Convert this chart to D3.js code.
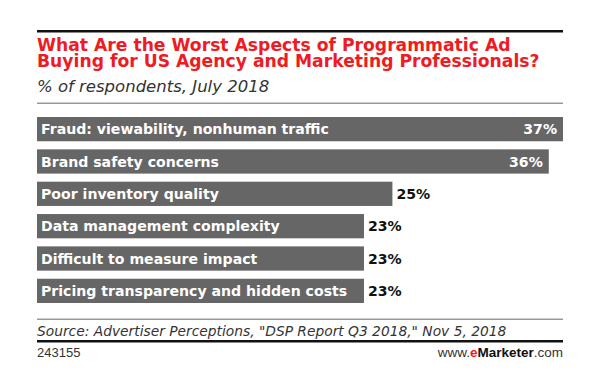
<!DOCTYPE html>
<html>
<head>
<meta charset="utf-8">
<script src="https://cdn.jsdelivr.net/npm/d3@7"></script>
<style>
  body { margin: 0; background: #fff; }
  svg { display: block; }
</style>
</head>
<body>
<div class="chart"></div>
<script>
var categories = [
  "Fraud: viewability, nonhuman traffic",
  "Brand safety concerns",
  "Poor inventory quality",
  "Data management complexity",
  "Difficult to measure impact",
  "Pricing transparency and hidden costs"
];
var values = [37, 36, 25, 23, 23, 23];
var title_lines = [
  "What Are the Worst Aspects of Programmatic Ad",
  "Buying for US Agency and Marketing Professionals?"
];
var subtitle = "% of respondents, July 2018";
var source = "Source: Advertiser Perceptions, \"DSP Report Q3 2018,\" Nov 5, 2018";
var chart_id = "243155";

var width = 600,
    height = 390,
    left = 37,
    right = 563,
    bars_top = 117,
    bars_bottom = 303,
    bar_color = "#666666",
    title_color = "#ee1b24",
    font = "'DejaVu Sans', sans-serif";

var svg = d3.select(".chart")
    .append("svg")
    .attr("width", width)
    .attr("height", height);

var x = d3.scaleLinear()
    .domain([0, d3.max(values)])
    .range([left, right]);

var y = d3.scaleBand()
    .domain(categories)
    .range([bars_top, bars_bottom])
    .paddingInner(0.25)
    .paddingOuter(0);

// header
svg.append("rect")
    .attr("x", left).attr("y", 30)
    .attr("width", right - left).attr("height", 2.5)
    .attr("fill", "#111");

svg.selectAll(".title")
    .data(title_lines)
    .enter().append("text")
    .attr("class", "title")
    .attr("x", left)
    .attr("y", function(d, i) { return 50.5 + i * 16.5; })
    .attr("font-family", font)
    .attr("font-weight", 700)
    .attr("font-size", 17.2)
    .attr("fill", title_color)
    .text(function(d) { return d; });

svg.append("text")
    .attr("x", left).attr("y", 92)
    .attr("font-family", font)
    .attr("font-style", "italic")
    .attr("font-size", 16.5)
    .attr("fill", "#333")
    .text(subtitle);

svg.append("rect")
    .attr("x", left).attr("y", 102.5)
    .attr("width", right - left).attr("height", 1.5)
    .attr("fill", "#999");

// bars
var rows = svg.selectAll(".row")
    .data(categories)
    .enter().append("g")
    .attr("class", "row");

rows.append("rect")
    .attr("x", x(0))
    .attr("y", function(d) { return y(d); })
    .attr("width", function(d, i) { return x(values[i]) - x(0); })
    .attr("height", y.bandwidth())
    .attr("fill", bar_color);

rows.append("text")
    .attr("x", x(0) + 4)
    .attr("y", function(d) { return y(d) + y.bandwidth() / 2; })
    .attr("dy", "0.36em")
    .attr("font-family", font)
    .attr("font-weight", 700)
    .attr("font-size", 14.1)
    .attr("fill", "#fff")
    .text(function(d) { return d; });

// long bars carry their value inside, the rest just past the end
rows.each(function(d, i) {
  var inside = values[i] > 0.8 * d3.max(values);
  var end = x(values[i]);
  d3.select(this).append("text")
    .attr("x", inside ? end - 6 : end + 4)
    .attr("y", y(d) + y.bandwidth() / 2)
    .attr("dy", "0.36em")
    .attr("text-anchor", inside ? "end" : "start")
    .attr("font-family", font)
    .attr("font-weight", 700)
    .attr("font-size", 14.1)
    .attr("fill", inside ? "#fff" : "#111")
    .text(values[i] + "%");
});

// footer
svg.append("rect")
    .attr("x", left).attr("y", 318.5)
    .attr("width", right - left).attr("height", 1.5)
    .attr("fill", "#999");

svg.append("text")
    .attr("x", left).attr("y", 336)
    .attr("font-family", font)
    .attr("font-style", "italic")
    .attr("font-size", 13.8)
    .attr("fill", "#333")
    .text(source);

svg.append("rect")
    .attr("x", left).attr("y", 340)
    .attr("width", right - left).attr("height", 2.5)
    .attr("fill", "#111");

svg.append("text")
    .attr("x", left).attr("y", 357)
    .attr("font-family", "'Liberation Sans', Arial, sans-serif")
    .attr("font-size", 13)
    .attr("fill", "#333")
    .text(chart_id);

var brand = svg.append("text")
    .attr("x", right).attr("y", 357)
    .attr("text-anchor", "end")
    .attr("font-family", "'Liberation Sans', Arial, sans-serif")
    .attr("font-size", 13.5)
    .attr("fill", "#333");
brand.append("tspan").text("www.");
brand.append("tspan").attr("fill", title_color).attr("font-weight", 700).text("e");
brand.append("tspan").attr("fill", "#111").attr("font-weight", 700).text("Marketer");
brand.append("tspan").text(".com");
</script>
</body>
</html>
